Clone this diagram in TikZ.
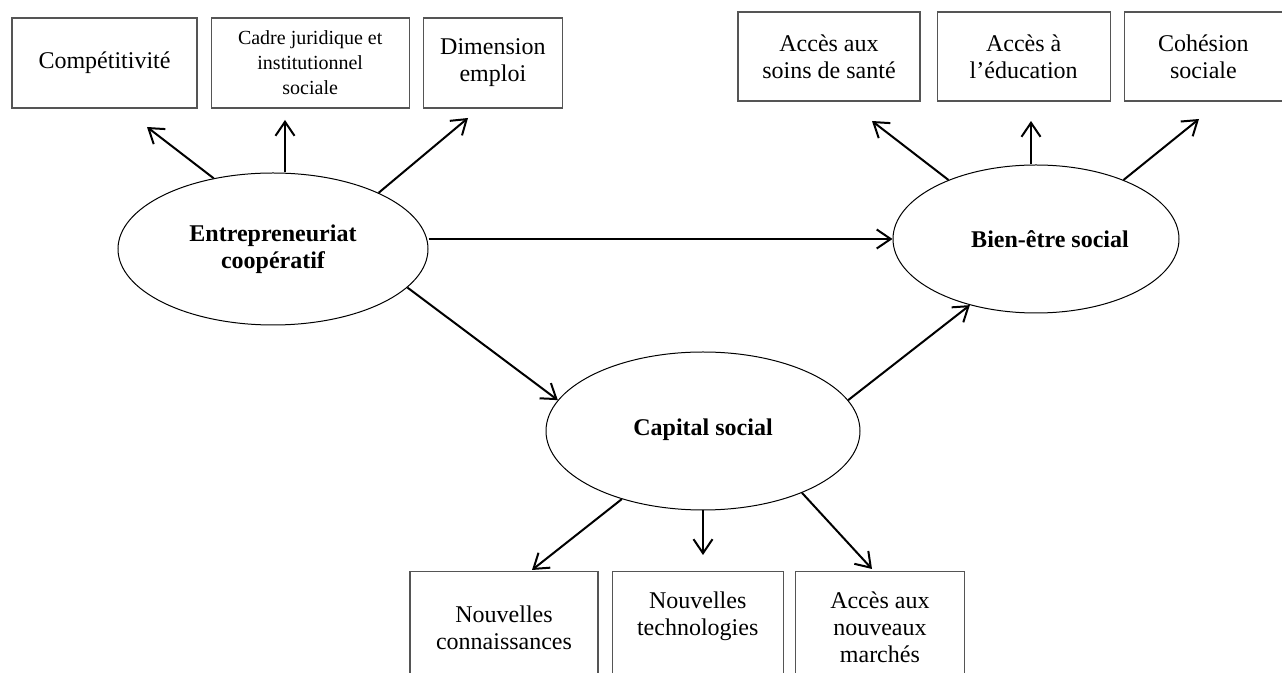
\documentclass[tikz,border=0pt]{standalone}
\usepackage{fontspec}
\setmainfont{Liberation Serif}
\usetikzlibrary{positioning,shapes.geometric,arrows.meta}
\definecolor{mygray}{RGB}{85,85,85}
\tikzstyle{mybox}=[draw=mygray, line width=0.6pt, align=center, inner sep=0pt, font=\fontsize{12}{13.5}\selectfont]
\tikzstyle{smallbox}=[mybox, font=\fontsize{10}{12.5}\selectfont]
\tikzstyle{bottombox}=[mybox, text depth=90pt]
\tikzstyle{concept}=[ellipse, draw, line width=0.5pt, align=center, inner sep=0pt, font=\fontsize{12}{13.5}\selectfont\bfseries]
\tikzstyle{connect arrow}=[-{Straight Barb[length=7pt,width=9.5pt]}, line width=1pt]

\begin{document}
\begin{tikzpicture}[x=0.5pt, y=-0.5pt]
\useasboundingbox (0,0) rectangle (1282,673);

% top left boxes
\node[mybox, minimum width=92.5pt, minimum height=45pt] (comp) at (104.5,63) {Compétitivité};
\node[smallbox, minimum width=99pt, minimum height=45pt, right=6.5pt of comp] (cadre) {Cadre juridique et\\ institutionnel\\ sociale};
\node[mybox, minimum width=69.5pt, minimum height=45pt, right=6.5pt of cadre] (dim) {Dimension\\ emploi};

% top right boxes
\node[mybox, minimum width=91pt, minimum height=44.5pt] (soins) at (829,56.5) {Accès aux\\ soins de santé};
\node[mybox, minimum width=86.5pt, minimum height=44.5pt, right=8pt of soins] (educ) {Accès à\\ l’éducation};
\node[mybox, minimum width=79pt, minimum height=44.5pt, right=6.5pt of educ] (coh) {Cohésion\\ sociale};

% bottom boxes
\node[bottombox, minimum width=94pt, inner ysep=17pt, anchor=north] (conn) at (504,571) {Nouvelles\\ connaissances};
\node[bottombox, minimum width=85.5pt, inner ysep=10pt, right=6.5pt of conn.north east, anchor=north west] (tech) {Nouvelles\\ technologies};
\node[bottombox, minimum width=84.5pt, inner ysep=10pt, right=5.5pt of tech.north east, anchor=north west] (march) {Accès aux\\ nouveaux\\ marchés};

% ellipses
\node[concept, minimum width=155pt, minimum height=76pt] (ent) at (273,249) {Entrepreneuriat\\ coopératif};
\node[concept, minimum width=143pt, minimum height=74pt] (bien) at (1036,239) {\hspace*{14pt}Bien-être social};
\node[concept, minimum width=157pt, minimum height=79pt] (cap) at (703,431) {\raisebox{4pt}{Capital social}};

% arrow ends
\coordinate (tcomp) at (147,127);
\coordinate (tcadre) at (285,120);
\coordinate (tdim) at (468,118);
\coordinate (tsoins) at (872,121);
\coordinate (teduc) at (1031,121);
\coordinate (tcoh) at (1199,119);
\coordinate (tconn) at (532,570);
\coordinate (ttech) at (703,555);
\coordinate (tmarch) at (872,569);

\begin{scope}[connect arrow]
    \draw (ent.130) -- (tcomp);
    \draw (tcadre |- ent.north) -- (tcadre);
    \draw (ent.28) -- (tdim);

    \draw (bien.146) -- (tsoins);
    \draw (teduc |- bien.north) -- (teduc);
    \draw (bien.34) -- (tcoh);

    \draw (bien.west -| ent.east) -- (bien.west);
    \draw (ent.-16) -- (cap.168);
    \draw (cap.12) -- (bien.225);

    \draw (cap.220) -- (tconn);
    \draw (cap.south) -- (ttech);
    \draw (cap.-32) -- (tmarch);
\end{scope}

\end{tikzpicture}
\end{document}
